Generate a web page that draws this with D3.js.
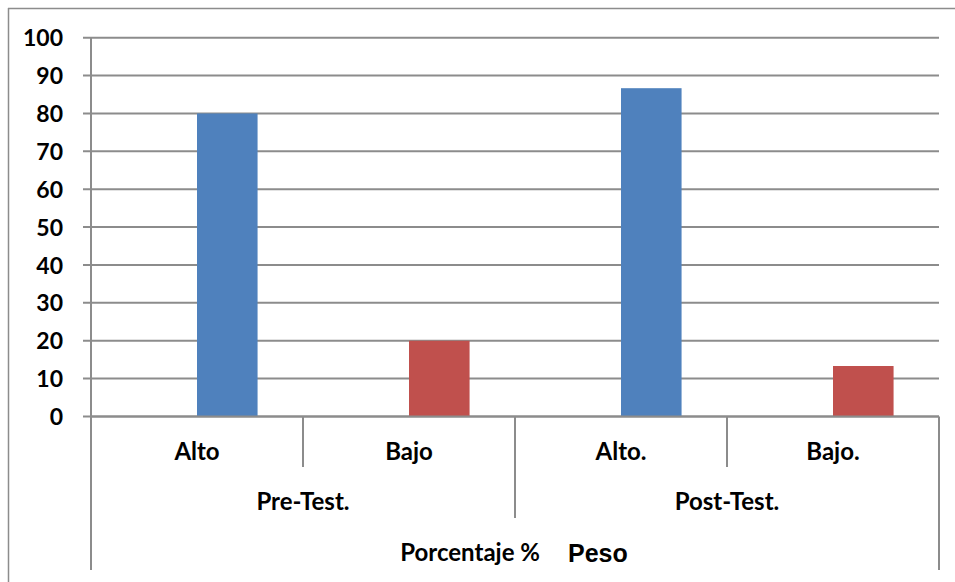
<!DOCTYPE html>
<html><head><meta charset="utf-8">
<script src="https://cdn.jsdelivr.net/npm/d3@7"></script>
<style>
html,body{margin:0;padding:0;background:#fff;}
svg{display:block;}
text{font-family:Lato,"Open Sans",sans-serif;font-weight:bold;fill:#000;}
</style></head>
<body>
<svg id="c" width="955" height="582"></svg>
<script>
const categories = ["Alto", "Bajo", "Alto.", "Bajo."];
const groups = ["Pre-Test.", "Post-Test."];
const values = [80, 20, 86.67, 13.33];
const barColors = ["#4F81BD", "#C0504D", "#4F81BD", "#C0504D"];
const yTicks = [0, 10, 20, 30, 40, 50, 60, 70, 80, 90, 100];
const titleMain = "Porcentaje %";
const titleSub = "Peso";

const svg = d3.select("#c");
const grid = "#8c8c8c";
const L = 91, R = 939, T = 37.7, B = 416.5;

// outer frame (top + left)
svg.append("path").attr("d", "M8,8.5H955M8.5,8V582").attr("fill", "none").attr("stroke", grid).attr("stroke-width", 1.5);

const y = d3.scaleLinear().domain([0, 100]).range([B, T]);
const x = d3.scaleBand().domain(categories).range([L, R]).paddingInner(0).paddingOuter(0);
const xs = d3.scaleBand().domain(["s0", "s1"]).range([0, x.bandwidth()]).paddingInner(0).paddingOuter(0.75);

// gridlines
svg.append("g").selectAll("line").data(yTicks).join("line")
  .attr("x1", 83).attr("x2", R).attr("y1", d => y(d)).attr("y2", d => y(d))
  .attr("stroke", grid).attr("stroke-width", 2);

// y axis labels
const yAxis = d3.axisLeft(y).tickValues(yTicks).tickSize(0).tickPadding(0).tickFormat(d3.format("d"));
const ya = svg.append("g").attr("transform", `translate(63,0)`).call(yAxis);
ya.select(".domain").remove();
ya.selectAll("text").style("font-size", "23px").style("font-family", "Lato, sans-serif").style("font-weight", "bold").attr("fill", "#000").attr("dy", "0.35em");

// bars
svg.append("g").selectAll("rect").data(categories).join("rect")
  .attr("x", d => x(d) + xs("s1"))
  .attr("width", xs.bandwidth())
  .attr("y", (d, i) => y(values[i]))
  .attr("height", (d, i) => y(0) - y(values[i]))
  .attr("fill", (d, i) => barColors[i]);

// axis lines
const lines = svg.append("g").attr("stroke", grid).attr("stroke-width", 2);
lines.append("line").attr("x1", L).attr("x2", L).attr("y1", T).attr("y2", 570);
lines.append("line").attr("x1", R).attr("x2", R).attr("y1", B).attr("y2", 570);
lines.append("line").attr("x1", L).attr("x2", R).attr("y1", B).attr("y2", B);
// level-1 separators (inside each group)
categories.forEach((c, i) => {
  if (i % 2 === 1) {
    const xx = x(c);
    lines.append("line").attr("x1", xx).attr("x2", xx).attr("y1", B).attr("y2", 467);
  }
});
// level-2 separator
const mid = x(categories[2]);
lines.append("line").attr("x1", mid).attr("x2", mid).attr("y1", B).attr("y2", 518);

// category labels
svg.append("g").selectAll("text").data(categories).join("text")
  .attr("x", d => x(d) + x.bandwidth() / 2).attr("y", 452).attr("dy", "0.35em")
  .attr("text-anchor", "middle").style("font-size", "24px").text(d => d);

// group labels
svg.append("g").selectAll("text").data(groups).join("text")
  .attr("x", (d, i) => x(categories[i * 2]) + x.bandwidth())
  .attr("y", 502).attr("dy", "0.35em")
  .attr("text-anchor", "middle").style("font-size", "24px").text(d => d);

// title
svg.append("text").attr("x", 540).attr("y", 553).attr("dy", "0.35em").attr("text-anchor", "end")
  .style("font-size", "24px").text(titleMain);
svg.append("text").attr("x", 568).attr("y", 553).attr("dy", "0.35em").attr("text-anchor", "start")
  .style("font-family", "'Liberation Sans', Arial, sans-serif").style("font-size", "25px").text(titleSub);
</script>
</body></html>
